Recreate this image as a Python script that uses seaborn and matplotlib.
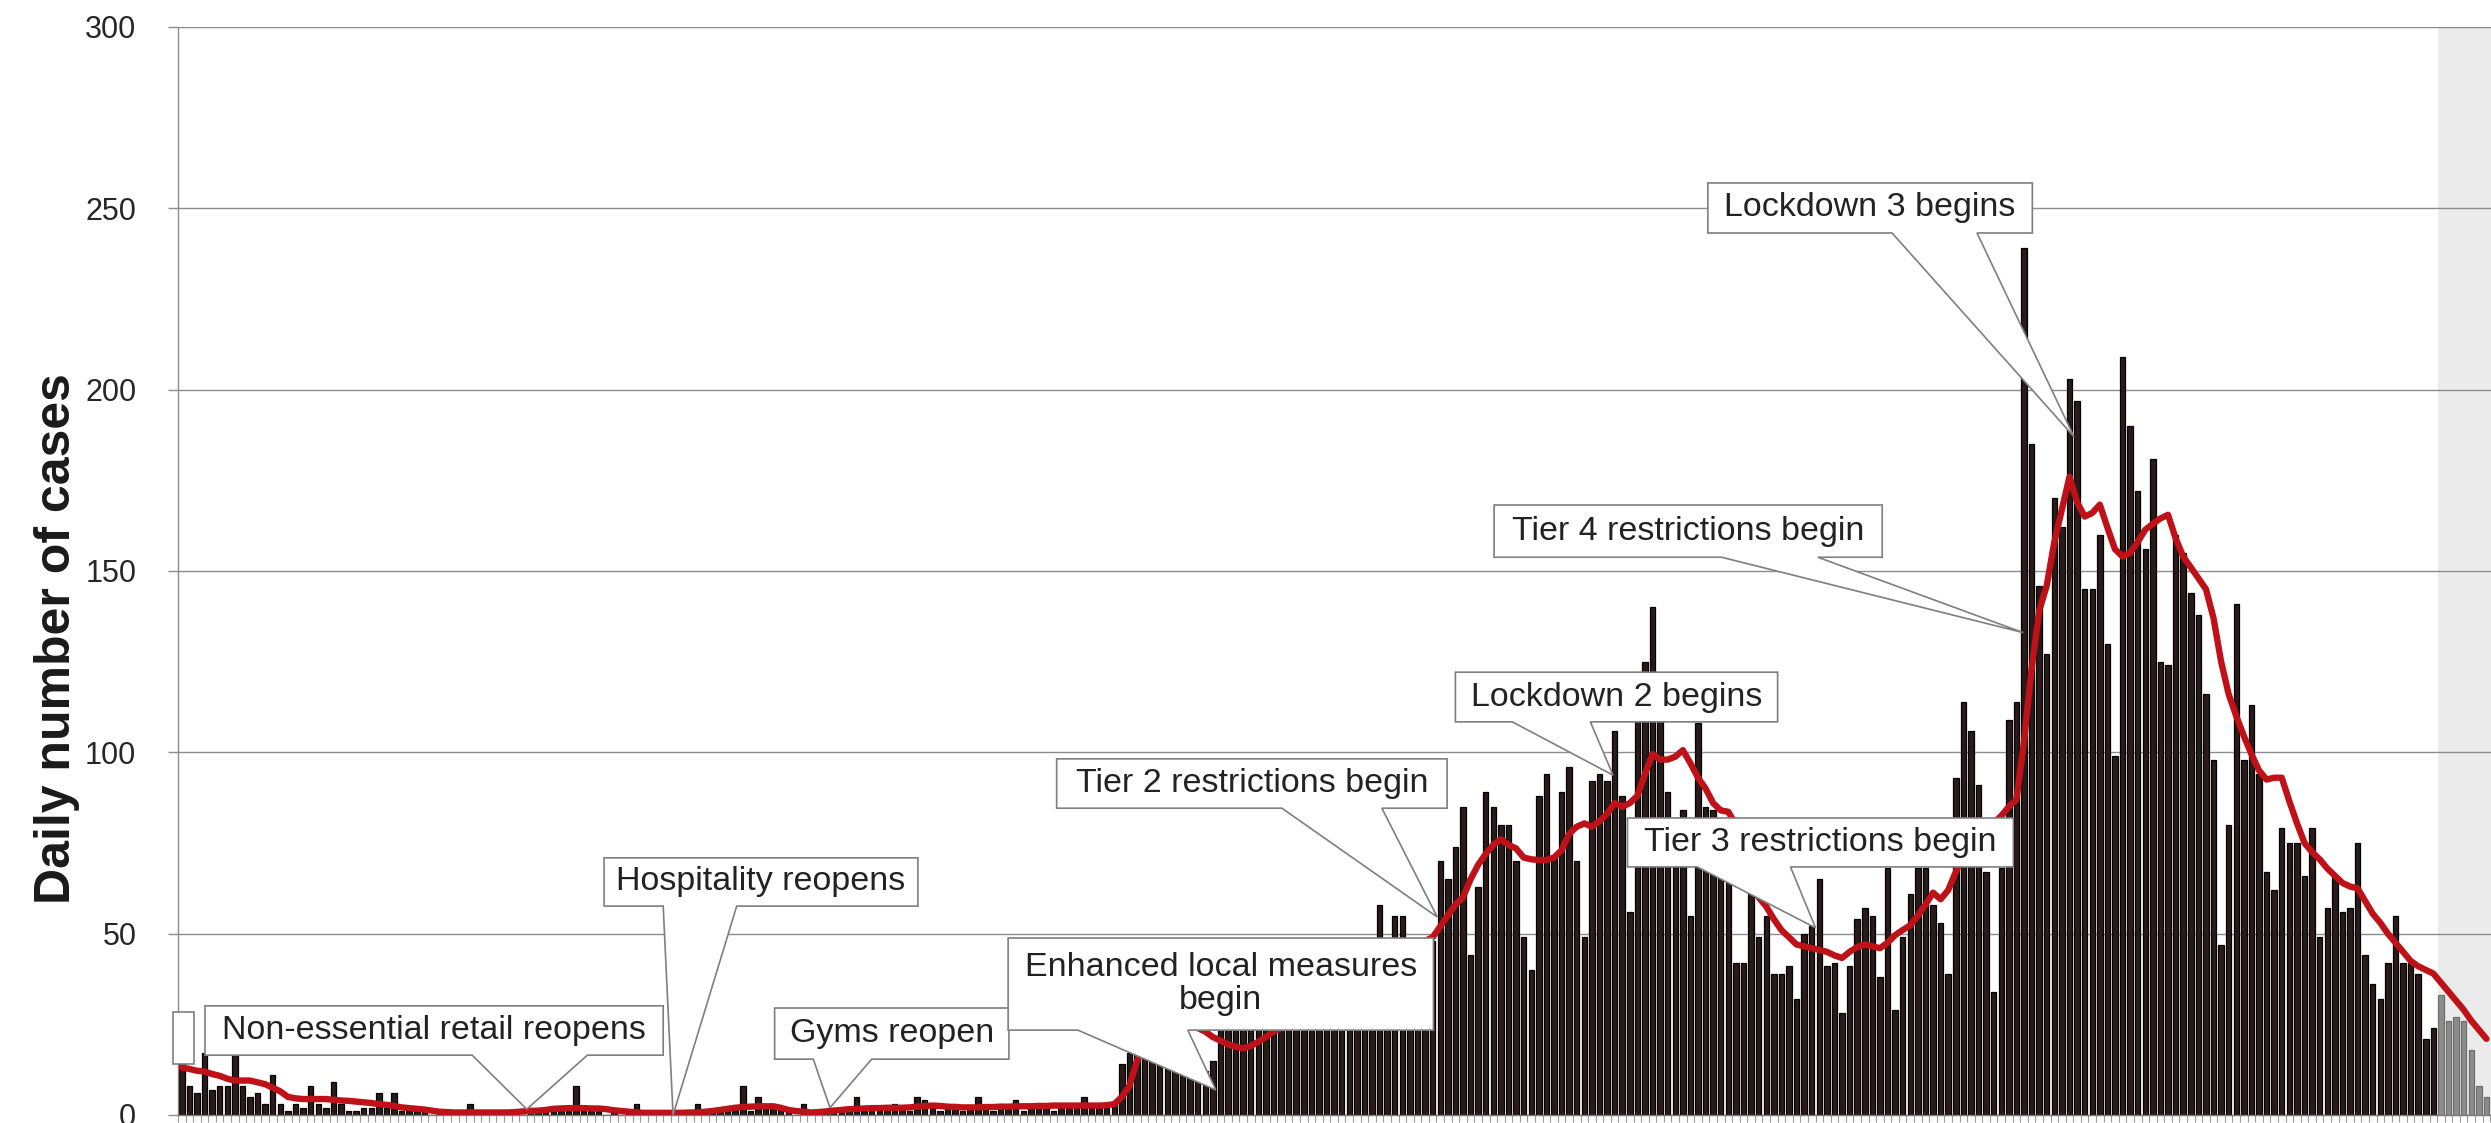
import numpy as np
import pandas as pd
import matplotlib
matplotlib.use("Agg")
import matplotlib.pyplot as plt
import seaborn as sns
from matplotlib.patches import Polygon

# ---------------- data ----------------
cases = [
    14, 8, 6, 17, 7, 8, 8, 17, 8, 5,
    6, 3, 11, 3, 1, 3, 2, 8, 3, 2,
    9, 3, 1, 1, 2, 2, 6, 2, 6, 1,
    1, 1, 2, 0, 1, 0, 0, 1, 3, 0,
    0, 1, 0, 0, 1, 0, 2, 1, 2, 1,
    2, 1, 8, 1, 2, 1, 0, 1, 0, 1,
    3, 0, 0, 1, 0, 0, 1, 0, 3, 1,
    1, 2, 1, 2, 8, 1, 5, 3, 3, 2,
    1, 0, 3, 0, 1, 1, 2, 1, 1, 5,
    1, 2, 1, 2, 3, 2, 1, 5, 4, 2,
    1, 2, 3, 1, 2, 5, 2, 1, 3, 2,
    4, 1, 2, 3, 2, 1, 3, 2, 3, 5,
    2, 3, 2, 3, 14, 17, 20, 26, 32, 30,
    28, 22, 18, 16, 14, 12, 15, 24, 25, 24,
    26, 25, 27, 28, 30, 27, 29, 31, 28, 33,
    30, 32, 35, 31, 37, 34, 39, 36, 58, 41,
    55, 55, 43, 47, 45, 48, 70, 65, 74, 85,
    44, 63, 89, 85, 80, 80, 70, 49, 40, 88,
    94, 71, 89, 96, 70, 49, 92, 94, 92, 106,
    88, 56, 110, 125, 140, 115, 89, 82, 84, 55,
    108, 85, 84, 82, 80, 42, 42, 62, 49, 55,
    39, 39, 41, 32, 50, 52, 65, 41, 42, 28,
    41, 54, 57, 55, 38, 68, 29, 49, 61, 68,
    68, 58, 53, 39, 93, 114, 106, 91, 67, 34,
    68, 109, 114, 239, 185, 146, 127, 170, 162, 203,
    197, 145, 145, 160, 130, 99, 209, 190, 172, 156,
    181, 125, 124, 160, 155, 144, 138, 116, 98, 47,
    80, 141, 98, 113, 94, 67, 62, 79, 75, 75,
    66, 79, 49, 57, 66, 56, 57, 75, 44, 36,
    32, 42, 55, 42, 42, 39, 21, 24, 33, 26,
    27, 26, 18, 8, 5,
]

avg7 = [
    13.1, 12.7, 12.2, 12.0, 11.3, 10.8, 10.0, 9.5, 9.5, 9.5,
    9.0, 8.5, 7.5, 6.5, 5.0, 4.6, 4.4, 4.4, 4.4, 4.4,
    4.2, 4.0, 3.9, 3.7, 3.5, 3.3, 3.0, 2.8, 2.5, 2.1,
    1.9, 1.7, 1.5, 1.2, 0.9, 0.8, 0.7, 0.7, 0.7, 0.7,
    0.7, 0.7, 0.7, 0.7, 0.8, 1.0, 1.1, 1.2, 1.4, 1.7,
    1.8, 1.9, 1.9, 1.9, 1.8, 1.8, 1.6, 1.3, 1.1, 0.9,
    0.7, 0.6, 0.6, 0.6, 0.6, 0.6, 0.6, 0.7, 0.7, 0.9,
    1.1, 1.4, 1.7, 2.0, 2.2, 2.3, 2.4, 2.4, 2.4, 2.0,
    1.4, 1.1, 0.9, 0.7, 0.8, 1.0, 1.2, 1.4, 1.6, 1.7,
    1.8, 1.9, 1.9, 2.0, 2.0, 2.0, 2.1, 2.3, 2.5, 2.6,
    2.5, 2.3, 2.2, 2.1, 2.1, 2.1, 2.2, 2.2, 2.3, 2.3,
    2.4, 2.4, 2.4, 2.5, 2.5, 2.6, 2.6, 2.6, 2.6, 2.6,
    2.6, 2.6, 2.7, 3.0, 5.0, 8.0, 15.0, 19.0, 22.0, 24.5,
    26.0, 27.0, 26.5, 25.5, 24.0, 23.0, 21.5, 20.5, 19.5, 18.8,
    18.4, 19.0, 20.2, 21.5, 23.0, 24.0, 25.0, 26.0, 27.0, 28.0,
    29.0, 30.0, 31.0, 32.0, 33.0, 34.0, 35.5, 37.0, 39.0, 40.5,
    42.0, 43.5, 45.0, 46.5, 48.0, 49.0, 52.0, 55.0, 58.0, 60.0,
    65.0, 69.0, 72.0, 74.5, 76.0, 74.5, 73.5, 71.0, 70.5, 70.3,
    70.3, 71.0, 73.0, 77.5, 79.5, 80.4, 79.5, 81.0, 83.0, 86.0,
    85.0, 86.0, 88.0, 94.0, 99.5, 98.0, 98.0, 98.8, 100.6, 97.0,
    93.0, 90.0, 86.0, 84.0, 83.6, 80.0, 74.0, 66.0, 60.0, 57.5,
    54.0, 51.0, 49.0, 47.0, 46.5, 46.0, 45.5, 45.0, 44.0, 43.3,
    45.0, 46.3, 47.0, 46.5, 46.0, 47.5, 49.6, 51.0, 52.3, 55.0,
    58.0, 61.3, 59.5, 62.0, 67.0, 71.2, 73.5, 76.5, 78.5, 80.5,
    82.5, 85.0, 87.0, 103.0, 123.0, 139.0, 146.0, 158.0, 167.0, 176.0,
    169.0, 165.0, 166.0, 168.3, 162.0, 156.0, 154.0, 155.0, 158.0, 161.4,
    163.0, 164.5, 165.5, 159.0, 154.0, 151.0, 148.0, 145.0, 137.0, 125.0,
    116.0, 110.0, 104.5, 99.5, 95.0, 92.5, 93.0, 93.0, 86.5, 80.5,
    75.0, 72.5, 70.5, 68.0, 66.0, 64.0, 63.0, 62.5, 59.0, 55.5,
    53.0, 50.0, 47.5, 45.0, 42.5, 41.0, 40.0, 39.0, 36.5, 34.0,
    31.5, 29.0, 26.0, 23.5, 21.0,
]

first_incomplete_day = 298          # bars in the grey "incomplete data" band
ylabel_text = "Daily number of cases"
ytick_values = [0, 50, 100, 150, 200, 250, 300]

event_labels = [
    "",
    "Non-essential retail reopens",
    "Hospitality reopens",
    "Gyms reopen",
    "Enhanced local measures\nbegin",
    "Tier 2 restrictions begin",
    "Lockdown 2 begins",
    "Tier 3 restrictions begin",
    "Tier 4 restrictions begin",
    "Lockdown 3 begins",
]
# pointer tips (day index, cases) of the callouts
event_tip_day = [None, 45.5, 64.8, 85.5, 136.4, 165.6, 188.8, 215.5, 242.9, 249.6]
event_tip_val = [None, 1.6, 0.0, 2.0, 6.9, 54.6, 93.7, 51.6, 133.0, 187.0]

# ---------------- layout of callout boxes (data units) ----------------
box_x0 = [-1.16, 3.06, 55.7, 78.2, 109.0, 115.4, 168.0, 190.7, 173.1, 201.3]
box_x1 = [1.61, 63.5, 97.1, 109.1, 165.1, 166.9, 210.5, 241.6, 224.3, 244.1]
box_y0 = [14.1, 16.5, 57.6, 15.4, 23.4, 84.6, 108.4, 68.4, 153.8, 243.2]
box_y1 = [28.4, 30.1, 70.9, 29.5, 48.8, 98.2, 122.1, 81.9, 168.2, 257.0]
wedge_a = [None, 38.3, 63.5, 83.3, 118.2, 145.1, 175.5, 199.9, 203.1, 225.6]
wedge_b = [None, 53.5, 73.2, 91.0, 132.7, 158.3, 185.8, 212.2, 215.8, 236.8]

N = len(cases)
df = pd.DataFrame({
    "day": np.arange(N),
    "cases": cases,
    "avg": avg7,
})
df["status"] = np.where(df["day"] >= first_incomplete_day, "incomplete", "complete")

# ---------------- figure ----------------
sns.set_theme(style="white")
plt.rcParams["font.family"] = ["Liberation Sans", "DejaVu Sans"]

W, H, DPI = 2491, 1123, 100
fig = plt.figure(figsize=(W / DPI, H / DPI), dpi=DPI)
fig.patch.set_facecolor("white")
left_px, bottom_px, top_px = 178, 1115, 27
ax = fig.add_axes([left_px / W, (H - bottom_px) / H, (W - left_px) / W, (bottom_px - top_px) / H])
ax.set_facecolor("white")

bar_face = "#2e1717"
grey_face = "#8c8c8c"
sns.barplot(data=df, x="day", y="cases", hue="status",
            palette={"complete": bar_face, "incomplete": grey_face},
            dodge=False, width=0.72, legend=False, ax=ax,
            linewidth=0.9, edgecolor="#000000", zorder=2)
for p in ax.patches:
    fc = p.get_facecolor()
    if abs(fc[0] - fc[2]) < 0.01 and fc[0] > 0.4:
        p.set_edgecolor("#6e6e6e")

sns.lineplot(data=df, x="day", y="avg", ax=ax, color="#be1218", lw=4.6,
             zorder=3, solid_capstyle="round", solid_joinstyle="round")

xmax = 304.6
ax.set_xlim(-0.5, xmax)
ax.set_ylim(0, 300)

# incomplete-data band
ax.axvspan(first_incomplete_day - 0.4, xmax + 1, color="#ebebeb", zorder=0.1, lw=0)

# grid
ax.set_axisbelow(True)
ax.yaxis.grid(True, color="#8c8c8c", lw=1.0)
ax.xaxis.grid(False)
ax.set_yticks(ytick_values)
ax.set_yticklabels([str(v) for v in ytick_values])
ax.tick_params(axis="y", which="major", direction="out", length=7, width=1.0,
               color="#8c8c8c", labelsize=22, pad=23, labelcolor="#262626", left=True)
ax.set_xticks(np.arange(N + 1) - 0.5)
ax.set_xticklabels([])
ax.tick_params(axis="x", which="major", direction="out", length=5, width=0.8,
               color="#9a9a9a", bottom=True)
ax.set_xlabel("")
ax.set_ylabel("")

for side in ["top", "right"]:
    ax.spines[side].set_visible(False)
ax.spines["left"].set_color("#8c8c8c")
ax.spines["left"].set_linewidth(1.0)
ax.spines["bottom"].set_color("#7a7a7a")
ax.spines["bottom"].set_linewidth(1.0)

fig.text(57 / W, 1 - 639 / H, ylabel_text, rotation=90, fontsize=36,
         fontweight="bold", ha="center", va="center", color="#1a1a1a")

# ---------------- callouts ----------------
for k, label in enumerate(event_labels):
    x0, x1, y0, y1 = box_x0[k], box_x1[k], box_y0[k], box_y1[k]
    if wedge_a[k] is None:
        verts = [(x0, y1), (x1, y1), (x1, y0), (x0, y0)]
    else:
        tip = (event_tip_day[k], event_tip_val[k])
        verts = [(x0, y1), (x1, y1), (x1, y0), (wedge_b[k], y0), tip,
                 (wedge_a[k], y0), (x0, y0)]
    ax.add_patch(Polygon(verts, closed=True, facecolor="white",
                         edgecolor="#7f7f7f", lw=1.2, zorder=6, clip_on=False,
                         joinstyle="miter"))
    if label:
        ax.text((x0 + x1) / 2, (y0 + y1) / 2, label, ha="center", va="center",
                fontsize=24.5, color="#222222", zorder=7, linespacing=1.05)

fig.savefig("out.png", dpi=DPI, facecolor="white")
